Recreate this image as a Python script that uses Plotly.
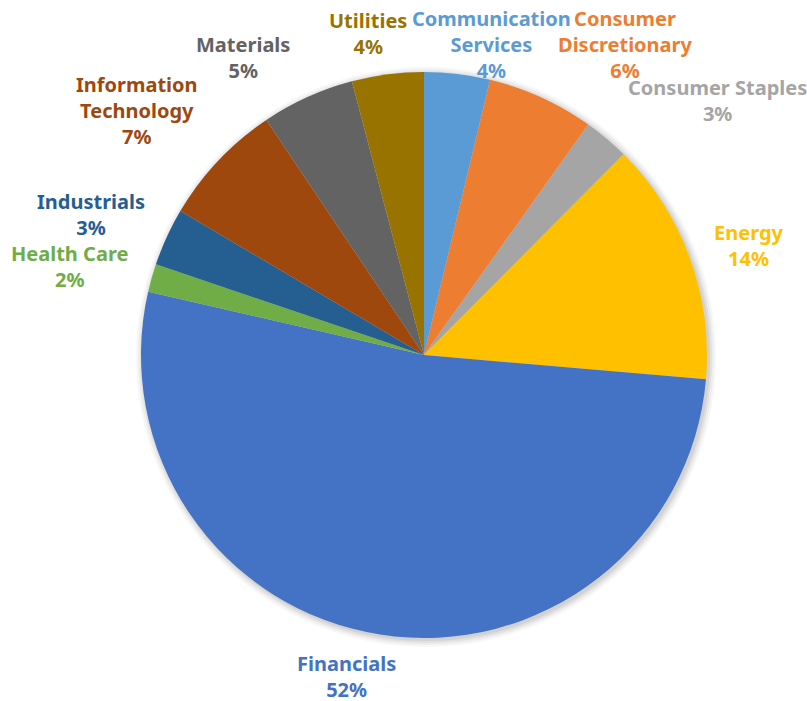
import math
import plotly.graph_objects as go

sectors = ["Communication Services", "Consumer Discretionary", "Consumer Staples", "Energy",
           "Financials", "Health Care", "Industrials", "Information Technology",
           "Materials", "Utilities"]
label_text = ["Communication<br>Services", "Consumer<br>Discretionary", "Consumer Staples", "Energy",
              "Financials", "Health Care", "Industrials", "Information<br>Technology",
              "Materials", "Utilities"]
weights = [3.75, 6.1, 2.6, 13.9, 52.2, 1.6, 3.3, 7.1, 5.3, 4.1]
colors = ["#5B9BD5", "#ED7D31", "#A5A5A5", "#FFC000", "#4472C4", "#70AD47",
          "#255E91", "#9E480E", "#636363", "#997300"]
# label nudges in pixels (styling only)
nudge_x = [33, 11, 13, 13, -32, -12, -11, -11, -11, -18]
nudge_y = [-22, 2, 2, 9, -4, 9, 18, 2, 2, 2]

W, H = 807, 701
CX, CY, R = 424, 355, 283

fig = go.Figure()

# soft shadow behind the pie
for k, op in [(7, 0.03), (5, 0.04), (3, 0.05), (1, 0.06)]:
    fig.add_shape(
        type="circle", xref="paper", yref="paper", layer="below",
        x0=(CX - R - k + 2) / W, x1=(CX + R + k + 2) / W,
        y0=(H - CY - R - k - 2) / H, y1=(H - CY + R + k - 2) / H,
        fillcolor=f"rgba(0,0,0,{op})", line=dict(width=0),
    )

fig.add_trace(go.Pie(
    labels=sectors, values=weights, sort=False, direction="clockwise", rotation=0,
    marker=dict(colors=colors, line=dict(width=0)),
    textinfo="none", hoverinfo="label+percent",
    domain=dict(x=[(CX - R) / W, (CX + R) / W], y=[(H - CY - R) / H, (H - CY + R) / H]),
    showlegend=False,
))

total = sum(weights)
cum = 0.0
gap = 10
for i, v in enumerate(weights):
    mid = (cum + v / 2) / total * 2 * math.pi
    cum += v
    s, c = math.sin(mid), math.cos(mid)
    px = CX + (R + gap) * s
    py = CY - (R + gap) * c
    xa = "left" if s > 0.3 else ("right" if s < -0.3 else "center")
    ya = "bottom" if c > 0.5 else ("top" if c < -0.5 else "middle")
    pct = round(v / total * 100)
    fig.add_annotation(
        x=px / W, y=(H - py) / H, xref="paper", yref="paper",
        xanchor=xa, yanchor=ya, xshift=nudge_x[i], yshift=nudge_y[i],
        text=f"<b>{label_text[i]}<br>{pct}%</b>", showarrow=False, align="center",
        font=dict(family="Noto Sans", size=20, color=colors[i]),
    )

fig.update_layout(
    width=W, height=H, margin=dict(l=0, r=0, t=0, b=0),
    paper_bgcolor="white", plot_bgcolor="white",
)
fig.write_html("out.html")
